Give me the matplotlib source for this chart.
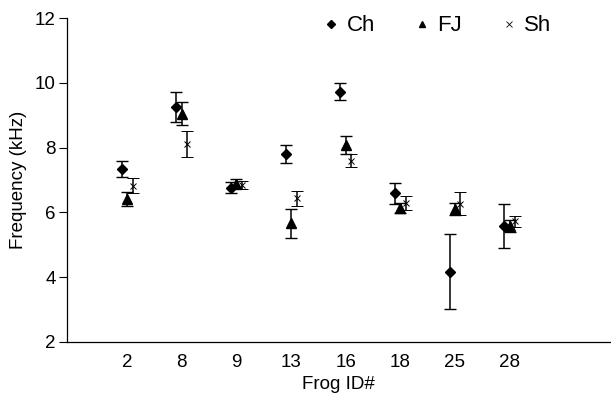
import numpy as np
import matplotlib
matplotlib.use('Agg')
import matplotlib.pyplot as plt
from matplotlib.lines import Line2D

plt.rcParams['font.family'] = ['Liberation Sans', 'DejaVu Sans']

# frog IDs on the x axis
frog_ids = ['2', '8', '9', '13', '16', '18', '25', '28']

# mean frequency (kHz) and error for each call type
ch_mean = [7.33, 9.26, 6.76, 7.79, 9.73, 6.59, 4.17, 5.59]
ch_err = [0.25, 0.47, 0.17, 0.28, 0.27, 0.32, 1.15, 0.68]

fj_mean = [6.42, 9.05, 6.89, 5.67, 8.08, 6.13, 6.11, 5.58]
fj_err = [0.22, 0.35, 0.15, 0.45, 0.27, 0.15, 0.19, 0.18]

sh_mean = [6.83, 8.12, 6.84, 6.43, 7.60, 6.30, 6.27, 5.72]
sh_err = [0.22, 0.40, 0.13, 0.24, 0.20, 0.22, 0.35, 0.16]


fig = plt.figure(figsize=(6.11, 3.95), dpi=100)
ax = fig.add_axes([0.1097, 0.1342, 0.888, 0.8202])

x = np.arange(1, len(frog_ids) + 1)

ax.errorbar(x - 0.1, ch_mean, yerr=ch_err, fmt='D', color='black', ms=5,
            capsize=4, elinewidth=1.1, capthick=1.0)
ax.errorbar(x, fj_mean, yerr=fj_err, fmt='^', color='black', ms=6.5,
            capsize=4, elinewidth=1.1, capthick=1.0)
ax.errorbar(x + 0.1, sh_mean, yerr=sh_err, fmt='x', color='black', ms=5,
            mew=0.7, capsize=4, elinewidth=1.1, capthick=1.0)

ax.set_xlim(-0.1, 9.83)
ax.set_ylim(2, 12)
ax.set_yticks([2, 4, 6, 8, 10, 12])
ax.set_xticks(x)
ax.set_xticklabels(frog_ids)
ax.tick_params(axis='x', length=0, labelsize=13.5, pad=9)
ax.tick_params(axis='y', length=6, width=0.8, labelsize=13.5, pad=2)

for side in ['top', 'right']:
    ax.spines[side].set_visible(False)
for side in ['left', 'bottom']:
    ax.spines[side].set_linewidth(0.9)

ax.set_xlabel('Frog ID#', fontsize=13.5, labelpad=3)
ax.set_ylabel('Frequency (kHz)', fontsize=13.5, labelpad=6)

# legend shows markers only
handles = [
    Line2D([], [], marker='D', color='black', ls='none', ms=4),
    Line2D([], [], marker='^', color='black', ls='none', ms=5),
    Line2D([], [], marker='x', color='black', ls='none', ms=4, mew=0.6),
]
ax.legend(handles, ['Ch', 'FJ', 'Sh'], ncol=3, frameon=False, fontsize=16,
          loc='upper right', bbox_to_anchor=(0.93, 1.07), handletextpad=0.2,
          columnspacing=1.6, handlelength=1.0)

fig.savefig('out.png', dpi=100)
